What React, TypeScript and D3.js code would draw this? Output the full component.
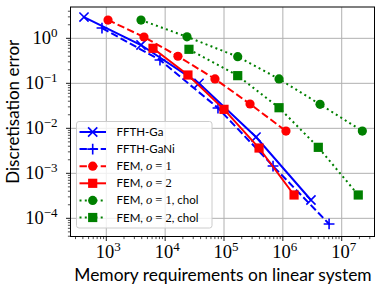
import * as d3 from "d3";

// memory requirements (x) and discretisation errors (y)
const ffthGaMem = [418, 3890, 37600, 350000, 3.0e6];
const ffthGaErr = [2.97, 0.71, 0.1, 0.0064, 2.55e-4];
const ffthGaNiMem = [845, 8170, 79000, 681000, 6.1e6];
const ffthGaNiErr = [1.69, 0.33, 0.0283, 1.45e-3, 7.5e-5];
const femO1Mem = [1070, 4370, 16500, 70300, 277000, 1.13e6];
const femO1Err = [2.55, 1.07, 0.4, 0.125, 0.0347, 0.0087];
const femO2Mem = [6220, 24400, 100000, 394000, 1.55e6];
const femO2Err = [0.6, 0.153, 0.0264, 3.65e-3, 3.3e-4];
const femO1CholMem = [3890, 23500, 171000, 861000, 4.28e6, 2.24e7];
const femO1CholErr = [2.55, 1.08, 0.39, 0.125, 0.0341, 0.0087];
const femO2CholMem = [25400, 171000, 861000, 4.0e6, 1.91e7];
const femO2CholErr = [0.57, 0.148, 0.0287, 3.78e-3, 3.3e-4];

const xTickExps = [3, 4, 5, 6, 7];
const yTickExps = [0, -1, -2, -3, -4];

const width = 383;
const height = 286;
const plot = { left: 70.5, right: 374.5, top: 7, bottom: 236.5 };

const sansFont = "Lato, 'DejaVu Sans', sans-serif";
const serifFont = "'Liberation Serif', 'DejaVu Serif', serif";

type Series = {
  label: [string, string | null, string];
  mem: number[];
  err: number[];
  color: string;
  dash: string | null;
  marker: "x" | "+" | "o" | "s";
};

const series: Series[] = [
  { label: ["FFTH-Ga", null, ""], mem: ffthGaMem, err: ffthGaErr, color: "#0000ff", dash: null, marker: "x" },
  { label: ["FFTH-GaNi", null, ""], mem: ffthGaNiMem, err: ffthGaNiErr, color: "#0000ff", dash: "7.4,3.2", marker: "+" },
  { label: ["FEM, ", "1", ""], mem: femO1Mem, err: femO1Err, color: "#ff0000", dash: "7.4,3.2", marker: "o" },
  { label: ["FEM, ", "2", ""], mem: femO2Mem, err: femO2Err, color: "#ff0000", dash: null, marker: "s" },
  { label: ["FEM, ", "1", ", chol"], mem: femO1CholMem, err: femO1CholErr, color: "#008000", dash: "2,3.3", marker: "o" },
  { label: ["FEM, ", "2", ", chol"], mem: femO2CholMem, err: femO2CholErr, color: "#008000", dash: "2,3.3", marker: "s" },
];

const Marker = (props: { kind: string; x: number; y: number; color: string }) => {
  const { kind, x, y, color } = props;
  const r = 4.6;
  if (kind === "o") return <circle cx={x} cy={y} r={r} fill={color} />;
  if (kind === "s") return <rect x={x - r} y={y - r} width={2 * r} height={2 * r} fill={color} />;
  if (kind === "x")
    return (
      <path
        d={`M${x - r},${y - r}L${x + r},${y + r}M${x - r},${y + r}L${x + r},${y - r}`}
        stroke={color}
        strokeWidth={1.6}
      />
    );
  return (
    <path
      d={`M${x - r - 0.8},${y}L${x + r + 0.8},${y}M${x},${y - r - 0.8}L${x},${y + r + 0.8}`}
      stroke={color}
      strokeWidth={1.6}
    />
  );
};

const Pow10 = (props: { x: number; y: number; e: number; anchor: string }) => (
  <text x={props.x} y={props.y} textAnchor={props.anchor} fontFamily={serifFont} fontSize={18.5} fill="#000">
    10
    <tspan dy={-7} fontSize={13}>
      {props.e < 0 ? `\u2212${-props.e}` : props.e}
    </tspan>
  </text>
);

export default function App() {
  const xScale = d3.scaleLog().domain([10 ** 2.392, 10 ** 7.557]).range([plot.left, plot.right]);
  const yScale = d3.scaleLog().domain([10 ** -4.404, 10 ** 0.696]).range([plot.bottom, plot.top]);

  const minorX: number[] = [];
  for (let e = 2; e <= 7; e++) for (let m = 2; m <= 9; m++) {
    const v = m * 10 ** e;
    if (v > xScale.domain()[0] && v < xScale.domain()[1]) minorX.push(v);
  }
  const minorY: number[] = [];
  for (let e = -5; e <= 0; e++) for (let m = 2; m <= 9; m++) {
    const v = m * 10 ** e;
    if (v > yScale.domain()[0] && v < yScale.domain()[1]) minorY.push(v);
  }

  const line = d3
    .line<[number, number]>()
    .x((d) => xScale(d[0]))
    .y((d) => yScale(d[1]));

  const legend = { x: 76.5, y: 121.5, w: 135.5, h: 106.5, row0: 132, rowStep: 17.1 };

  return (
    <svg width={width} height={height} viewBox={`0 0 ${width} ${height}`} style={{ position: "absolute", left: 0, top: 0 }}>
      <rect width={width} height={height} fill="#fff" />
      <defs>
        <clipPath id="plotClip">
          <rect x={plot.left} y={plot.top} width={plot.right - plot.left} height={plot.bottom - plot.top} />
        </clipPath>
      </defs>

      {/* grid */}
      <g stroke="#b0b0b0" strokeWidth={1}>
        {xTickExps.map((e) => (
          <line key={e} x1={xScale(10 ** e)} x2={xScale(10 ** e)} y1={plot.top} y2={plot.bottom} />
        ))}
        {yTickExps.map((e) => (
          <line key={e} x1={plot.left} x2={plot.right} y1={yScale(10 ** e)} y2={yScale(10 ** e)} />
        ))}
      </g>

      {/* series */}
      <g clipPath="url(#plotClip)">
        {series.map((s, i) => {
          const pts = s.mem.map((m, j) => [m, s.err[j]] as [number, number]);
          return (
            <g key={i}>
              <path d={line(pts) ?? ""} fill="none" stroke={s.color} strokeWidth={2} strokeDasharray={s.dash ?? undefined} />
              {pts.map((p, j) => (
                <Marker key={j} kind={s.marker} x={xScale(p[0])} y={yScale(p[1])} color={s.color} />
              ))}
            </g>
          );
        })}
      </g>

      {/* axes frame */}
      <rect x={plot.left} y={plot.top} width={plot.right - plot.left} height={plot.bottom - plot.top} fill="none" stroke="#000" strokeWidth={1} />

      {/* ticks */}
      <g stroke="#000" strokeWidth={0.9}>
        {xTickExps.map((e) => (
          <line key={e} x1={xScale(10 ** e)} x2={xScale(10 ** e)} y1={plot.bottom} y2={plot.bottom + 4.5} />
        ))}
        {minorX.map((v, i) => (
          <line key={i} x1={xScale(v)} x2={xScale(v)} y1={plot.bottom} y2={plot.bottom + 2.6} strokeWidth={0.7} />
        ))}
        {yTickExps.map((e) => (
          <line key={e} x1={plot.left - 4.5} x2={plot.left} y1={yScale(10 ** e)} y2={yScale(10 ** e)} />
        ))}
        {minorY.map((v, i) => (
          <line key={i} x1={plot.left - 2.6} x2={plot.left} y1={yScale(v)} y2={yScale(v)} strokeWidth={0.7} />
        ))}
      </g>

      {/* tick labels */}
      {xTickExps.map((e) => (
        <Pow10 key={e} x={xScale(10 ** e) + 2} y={plot.bottom + 21.5} e={e} anchor="middle" />
      ))}
      {yTickExps.map((e) => (
        <Pow10 key={e} x={plot.left - 13} y={yScale(10 ** e) + 5.5} e={e} anchor="end" />
      ))}

      {/* axis labels */}
      <text x={(plot.left + plot.right) / 2 + 0.5} y={281} textAnchor="middle" fontFamily={sansFont} fontSize={17.4} fill="#000">
        Memory requirements on linear system
      </text>
      <text
        transform={`translate(19, ${(plot.top + plot.bottom) / 2 - 10}) rotate(-90)`}
        textAnchor="middle"
        fontFamily={sansFont}
        fontSize={17}
        fill="#000"
      >
        Discretisation error
      </text>

      {/* legend */}
      <rect x={legend.x} y={legend.y} width={legend.w} height={legend.h} rx={2.5} fill="#fff" fillOpacity={0.8} stroke="#cccccc" strokeWidth={1} />
      {series.map((s, i) => {
        const y = legend.row0 + i * legend.rowStep;
        return (
          <g key={i}>
            <line x1={79.5} x2={106} y1={y} y2={y} stroke={s.color} strokeWidth={2} strokeDasharray={s.dash ?? undefined} />
            <Marker kind={s.marker} x={92.7} y={y} color={s.color} />
            <text x={116.5} y={y + 4} fontFamily={sansFont} fontSize={11.5} fill="#000">
              {s.label[0]}
              {s.label[1] !== null && (
                <>
                  <tspan fontFamily={serifFont} fontStyle="italic" fontSize={12.5}>o</tspan>
                  <tspan fontFamily={serifFont} fontSize={12.5}>{` = ${s.label[1]}`}</tspan>
                </>
              )}
              {s.label[2]}
            </text>
          </g>
        );
      })}
    </svg>
  );
}
